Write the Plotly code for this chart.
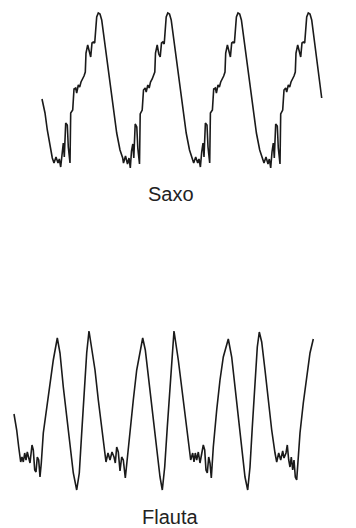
import plotly.graph_objects as go

# Saxophone waveform (time in samples, amplitude in arbitrary units)
sax_t = [0, 3, 5.3, 8, 10.3, 12, 14, 16, 17.3, 18.7, 20, 21.3, 22.3, 23.7, 25.3, 26.3, 28, 28.7, 30.7, 32,
         33.7, 34.7, 36.3, 37.7, 39, 40.7, 42, 43.3, 44, 45.7, 47.3, 48.7, 50, 51.3, 52.7, 53.7, 54.7, 56.3,
         58, 59.7, 61.3, 64.7, 68, 71.3, 74.7, 78, 80.7,
         81.5, 83.5, 85.5, 87, 88.3, 89.5, 90.8, 91.8, 93.2, 94.8, 95.8, 97.5, 98.2, 100.2, 101.5, 103.2,
         104.2, 105.8, 107.2, 108.5, 110.2, 111.5, 112.8, 113.5, 115.2, 116.8, 118.2, 119.5, 120.8, 122.2,
         123.2, 124.2, 125.8, 127.5, 129.2, 130.8, 134.2, 137.5, 140.8, 144.2, 147.5, 150.2,
         151.7, 153.7, 155.7, 157, 158.4, 159.7, 161, 162, 163.4, 165, 166, 167.7, 168.4, 170.4, 171.7, 173.4,
         174.4, 176, 177.4, 178.7, 180.4, 181.7, 183, 183.7, 185.4, 187, 188.4, 189.7, 191, 192.4, 193.4,
         194.4, 196, 197.7, 199.4, 201, 204.4, 207.7, 211, 214.4, 217.7, 220.4,
         222, 224, 226, 227.3, 228.7, 230, 231.3, 232.3, 233.7, 235.3, 236.3, 238, 238.7, 240.7, 242, 243.7,
         244.7, 246.3, 247.7, 249, 250.7, 252, 253.3, 254, 255.7, 257.3, 258.7, 260, 261.3, 262.7, 263.7,
         264.7, 266.3, 268, 269.7, 271.3, 274.7, 278, 279.7]
sax_a = [-11, -25, -42, -59, -70, -75, -69, -75, -71, -79, -64, -55, -69, -35, -37, -59, -75, -25, -22, -1,
         0, -5, 3, 1, 6, 9, 12, 16, 35, 43, 35, 31, 45, 46, 45, 61, 71, 75,
         74, 68, 56, 31, 5, -22, -45, -62, -70,
         -75, -68, -76, -70, -80, -63, -56, -70, -36, -39, -60, -76, -26, -22, -2, 0,
         -4, 3, 0, 6, 9, 13, 16, 35, 43, 34, 31, 45, 46, 44,
         61, 71, 75, 74, 68, 56, 31, 5, -22, -45, -62, -70,
         -75, -69, -75, -71, -79, -64, -55, -69, -35, -37, -59, -75, -25, -22, -1, 0,
         -5, 3, 1, 6, 9, 12, 16, 35, 43, 35, 31, 45, 46, 45, 61,
         71, 75, 74, 68, 56, 31, 5, -22, -45, -62, -70,
         -75, -69, -76, -71, -80, -64, -55, -70, -36, -38, -60, -76, -26, -22, -2, 0,
         -4, 3, 1, 6, 9, 12, 16, 35, 43, 35, 31, 45, 46, 45, 61,
         71, 75, 74, 68, 56, 31, 5, -10]

# Flute waveform (time in samples, amplitude in arbitrary units)
flauta_t = [0, 2.7, 4.7, 6.7, 8, 9.3, 10.7, 12, 13.3, 14.7, 16, 18, 19.3, 20.7, 22, 23.3, 24.7, 26, 27.3,
            29.3, 32.7, 36, 39.3, 43.3, 46, 49.3, 52.7, 56, 59.3, 62.7, 65.3, 67.7, 70, 72.7, 75, 77.7,
            81, 84.3, 87.7, 90.3, 92, 94, 96, 98, 100, 101.3, 102.7, 104.3, 106, 107.7, 109.3, 111.3,
            113.3, 116, 119.3, 122.7, 126, 128.7, 131.3, 134.7, 138.7, 142.7, 146, 148.3, 150.7, 153.3,
            156, 158.3, 160,
            164.3, 167.7, 171, 174.3, 176.7, 178.7, 180, 181.3, 182.7, 184.3, 186, 189.3, 190.7, 192,
            193.3, 194.7, 196, 197.3, 199.3, 202.7, 206, 209.3, 214.3, 217.7, 221, 224.3, 227.7, 231,
            233.7, 236, 238.3, 241, 243.3, 245.3, 247.7, 251, 254.3, 257.7, 261, 262.7, 264.7, 266.7,
            268.7, 270, 272, 273.3, 274.7, 276, 277.3, 278.7, 280, 281.3, 282.7, 284, 286, 289.3, 292.7,
            296, 299.3]
flauta_a = [-4, -20, -37, -52, -47, -52, -43, -50, -42, -47, -53, -35, -40, -60, -62, -47, -50, -67, -53,
            -23, 3, 27, 50, 72, 57, 23, -7, -37, -63, -80, -63, -23, 17, 57, 79, 63,
            40, 10, -20, -43, -52, -43, -50, -42, -47, -53, -37, -42, -61, -47, -50, -68,
            -47, -17, 10, 40, 60, 72, 60, 30, -3, -40, -67, -80, -57, -17,
            23, 63, 79,
            50, 23, -3, -30, -50, -43, -52, -43, -50, -42, -53, -35, -40, -60,
            -63, -47, -53, -68, -37, 0, 30, 53, 71, 53, 23, -7, -40, -67,
            -80, -57, -17, 27, 63, 78, 68, 40, 10, -20, -43, -52, -43, -50,
            -41, -48, -43, -35, -50, -57, -47, -60, -50, -67, -70, -50, -23, 7, 33,
            57, 71]

line_style = dict(color="#1a1a1a", width=1.6)

fig = go.Figure()
fig.add_trace(go.Scatter(x=sax_t, y=sax_a, mode="lines", line=line_style,
                         xaxis="x", yaxis="y", showlegend=False, hoverinfo="skip"))
fig.add_trace(go.Scatter(x=flauta_t, y=flauta_a, mode="lines", line=line_style,
                         xaxis="x2", yaxis="y2", showlegend=False, hoverinfo="skip"))

label_font = dict(family="Liberation Sans, Arial, sans-serif", size=20, color="#222222")

fig.update_layout(
    width=348, height=520,
    margin=dict(l=0, r=0, t=0, b=0),
    paper_bgcolor="white", plot_bgcolor="white",
    xaxis=dict(domain=[0, 1], range=[-34, 314], visible=False, fixedrange=True),
    yaxis=dict(domain=[0.5, 1], range=[-180, 80], visible=False, fixedrange=True),
    xaxis2=dict(domain=[0, 1], range=[-6, 342], visible=False, anchor="y2", fixedrange=True),
    yaxis2=dict(domain=[0, 0.5], range=[-118, 142], visible=False, anchor="x2", fixedrange=True),
    annotations=[
        dict(text="Saxo", x=0.4698, y=0.6423, xref="paper", yref="paper",
             xanchor="center", yanchor="middle", showarrow=False, font=label_font),
        dict(text="Flauta", x=0.4655, y=0.0212, xref="paper", yref="paper",
             xanchor="center", yanchor="middle", showarrow=False, font=label_font),
    ],
)

fig.write_html("out.html")
